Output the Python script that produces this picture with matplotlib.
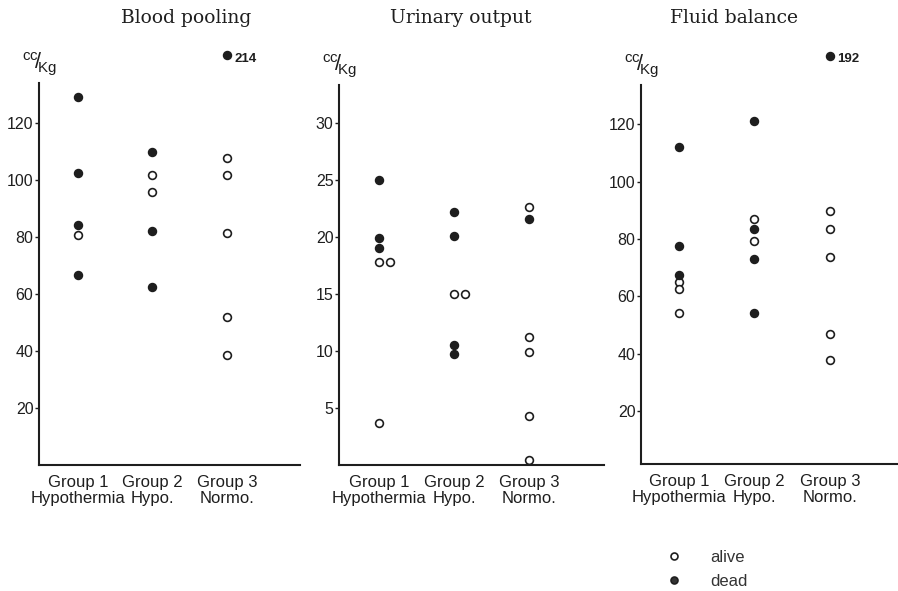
import matplotlib
matplotlib.use("Agg")
import matplotlib.pyplot as plt
from matplotlib.lines import Line2D

# ---------------- data ----------------
titles = ["Blood pooling", "Urinary output", "Fluid balance"]
group_labels = ["Group 1\nHypothermia", "Group 2\nHypo.", "Group 3\nNormo."]
unit_label = r"$\mathregular{^{cc}\!/\!_{Kg}}$"

# Blood pooling (cc/Kg)
bp_alive = [[80.7], [101.6, 95.6], [107.7, 101.8, 81.5, 52.0, 38.5]]
bp_dead = [[129.2, 102.5, 84.1, 66.7], [109.7, 82.0, 62.5], [214]]
bp_ticks = [20, 40, 60, 80, 100, 120]

# Urinary output (cc/Kg)
uo_alive = [[17.8, 17.8, 3.7], [15.0, 15.0], [22.6, 11.2, 9.9, 4.3, 0.4]]
uo_dead = [[25.0, 19.9, 19.0], [22.2, 20.1, 10.5, 9.7], [21.6]]
uo_ticks = [5, 10, 15, 20, 25, 30]

# Fluid balance (cc/Kg)
fb_alive = [[65.0, 62.4, 54.2], [86.9, 79.2], [89.9, 83.5, 73.7, 46.9, 37.8]]
fb_dead = [[112.2, 77.7, 67.4], [121.2, 83.6, 73.1, 54.3], [192]]
fb_ticks = [20, 40, 60, 80, 100, 120]

legend_labels = ["alive", "dead"]

# ---------------- layout / style ----------------
W, H = 898, 591
axes_px = [(39, 300, 465, 83), (339, 604, 465, 85), (641, 897, 464, 85)]  # left,right,bottom,top
ylims = [(0, 134), (0, 33.3), (1.5, 133.7)]
xlims = [(0.48, 3.98), (0.465, 4.0), (0.497, 3.89)]
title_px = [(186, 18), (461, 18), (734, 18)]
OFFSCALE_Y = [1.072, None, 1.076]   # axes-fraction height where off-scale points are drawn
DUP_DX = 0.15        # horizontal shift for coinciding values
INK = "#1e1e1e"
MS = 5.6

plt.rcParams["font.family"] = ["Liberation Sans", "DejaVu Sans"]
plt.rcParams["mathtext.fontset"] = "custom"
plt.rcParams["mathtext.rm"] = "Liberation Sans"

fig = plt.figure(figsize=(W / 100, H / 100), dpi=100)

panels = [
    (bp_alive, bp_dead, bp_ticks),
    (uo_alive, uo_dead, uo_ticks),
    (fb_alive, fb_dead, fb_ticks),
]


def plot_group(ax, gi, vals, filled, ytop, offy):
    seen = []
    for v in vals:
        x = gi + 1 + DUP_DX * seen.count(v)
        seen.append(v)
        face = INK if filled else "white"
        if v > ytop:
            ax.plot([x], [offy], "o", ms=MS, mfc=face, mec=INK, mew=1.2,
                    transform=ax.get_xaxis_transform(), clip_on=False, zorder=3)
            ax.text(x + 0.1, offy - 0.008, f"{v:g}", transform=ax.get_xaxis_transform(),
                    fontsize=9.5, fontweight="bold", ha="left", va="center", color=INK)
        else:
            ax.plot([x], [v], "o", ms=MS, mfc=face, mec=INK, mew=1.2,
                    clip_on=False, zorder=3)


for i, (alive, dead, ticks) in enumerate(panels):
    l, r, b, t = axes_px[i]
    ax = fig.add_axes([l / W, 1 - b / H, (r - l) / W, (b - t) / H])
    ax.set_xlim(*xlims[i])
    ax.set_ylim(*ylims[i])
    for gi in range(3):
        plot_group(ax, gi, alive[gi], False, ylims[i][1], OFFSCALE_Y[i])
        plot_group(ax, gi, dead[gi], True, ylims[i][1], OFFSCALE_Y[i])
    for s in ["top", "right"]:
        ax.spines[s].set_visible(False)
    for s in ["left", "bottom"]:
        ax.spines[s].set_linewidth(1.5)
        ax.spines[s].set_color(INK)
    ax.set_yticks(ticks)
    ax.set_yticklabels([str(tk) for tk in ticks], fontsize=11.5, color=INK)
    ax.tick_params(axis="y", direction="out", length=3, width=1, pad=1, color=INK)
    ax.set_xticks([1, 2, 3])
    ax.set_xticklabels(group_labels, fontsize=12, color=INK, linespacing=1.1)
    ax.tick_params(axis="x", length=0, pad=7)
    ax.text(0.0, 1.05, unit_label, transform=ax.transAxes, fontsize=15.5,
            ha="center", va="center", color=INK)
    fig.text(title_px[i][0] / W, 1 - title_px[i][1] / H, titles[i],
             family="DejaVu Serif", fontsize=13.5, ha="center", va="center", color=INK)

handles = [
    Line2D([], [], ls="none", marker="o", ms=5, mfc="white", mec=INK, mew=1.2),
    Line2D([], [], ls="none", marker="o", ms=5, mfc="#333333", mec=INK, mew=1.2),
]
fig.legend(handles, legend_labels, loc="upper left", bbox_to_anchor=(665.7 / W, 1 - 550 / H),
           frameon=False, fontsize=12, handlelength=1.0, handletextpad=1.7,
           labelspacing=0.55, borderpad=0, borderaxespad=0, labelcolor="#333333")

fig.savefig("out.png", dpi=100)
